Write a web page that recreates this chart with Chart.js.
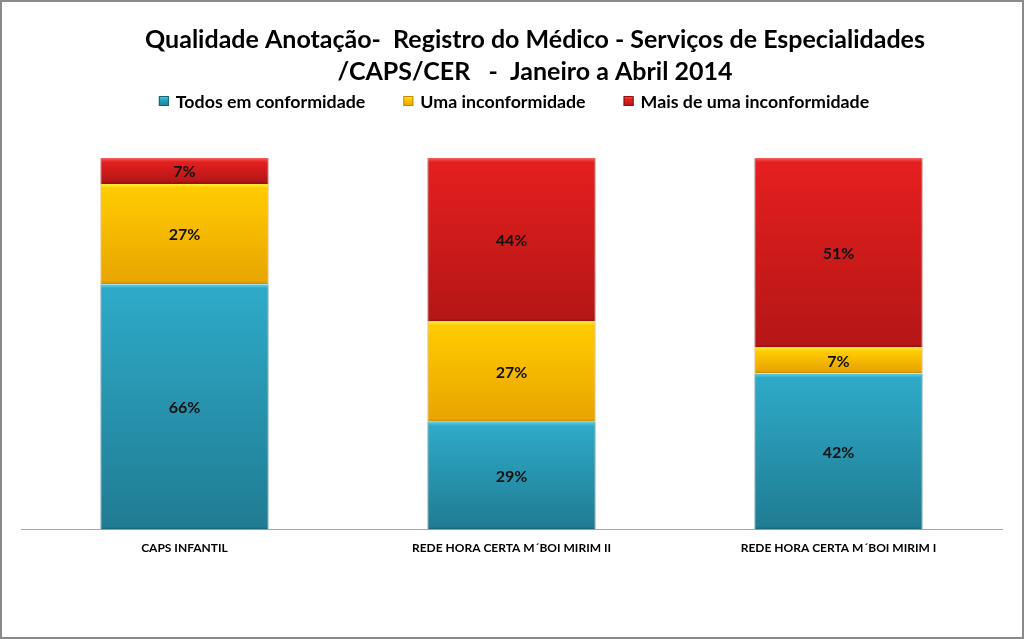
<!DOCTYPE html>
<html><head><meta charset="utf-8">
<script src="https://cdn.jsdelivr.net/npm/chart.js@4"></script>
<style>html,body{margin:0;padding:0;background:#fff}canvas{display:block}</style>
</head><body><canvas id="c" width="1024" height="639" style="width:1024px;height:639px"></canvas>
<script>
const categories = ['CAPS INFANTIL', 'REDE HORA CERTA M´BOI MIRIM II', 'REDE HORA CERTA M´BOI MIRIM I'];
const seriesNames = ['Todos em conformidade', 'Uma inconformidade', 'Mais de uma inconformidade'];
const todosEmConformidade = [66, 29, 42];
const umaInconformidade = [27, 27, 7];
const maisDeUmaInconformidade = [7, 44, 51];
const titleLines = ['Qualidade Anotação-  Registro do Médico - Serviços de Especialidades', '/CAPS/CER   -  Janeiro a Abril 2014'];

const FONT = 'Lato';
const palettes = [
  {hi:'#62d2ea', top:'#2eaac8', bottom:'#207c93', edge:'#176174', solid:'#2ea4c2'},
  {hi:'#ffee3a', top:'#ffcb00', bottom:'#e9a500', edge:'#c58a00', solid:'#ffc000'},
  {hi:'#f26262', top:'#e51f1f', bottom:'#b51616', edge:'#8c1010', solid:'#e02020'}
];

function grad(pal){
  return function(ctx){
    const chart = ctx.chart;
    if (!chart.chartArea || ctx.type !== 'data') return pal.solid;
    const ys = chart.scales.y;
    const di = ctx.datasetIndex, i = ctx.dataIndex;
    let start = 0;
    for (let d = 0; d < di; d++) start += chart.data.datasets[d].data[i];
    const end = start + chart.data.datasets[di].data[i];
    const y0 = ys.getPixelForValue(end), y1 = ys.getPixelForValue(start);
    const h = Math.max(1, y1 - y0);
    const g = chart.ctx.createLinearGradient(0, y0, 0, y1);
    g.addColorStop(0, pal.hi);
    g.addColorStop(Math.min(0.45, 4 / h), pal.top);
    g.addColorStop(Math.max(0.55, 1 - 3 / h), pal.bottom);
    g.addColorStop(1, pal.edge);
    return g;
  };
}

const seriesValues = [todosEmConformidade, umaInconformidade, maisDeUmaInconformidade];
const datasets = seriesValues.map((vals, k) => ({
  label: seriesNames[k],
  data: vals,
  backgroundColor: grad(palettes[k]),
  borderColor: palettes[k].edge,
  borderWidth: {left: 1, right: 1, top: 0, bottom: 0},
  borderSkipped: false,
  categoryPercentage: 1.0,
  barPercentage: 0.514
}));

const framePlugin = {
  id: 'frame',
  beforeDraw(chart){
    const c = chart.ctx;
    c.save();
    c.fillStyle = '#ffffff';
    c.fillRect(0, 0, chart.width, chart.height);
    c.restore();
  },
  afterDraw(chart){
    const c = chart.ctx;
    c.save();
    // title
    c.fillStyle = '#000000';
    c.textAlign = 'center';
    c.textBaseline = 'middle';
    c.font = 'bold 25px ' + FONT;
    c.fillText(titleLines[0], 535, 40);
    c.fillText(titleLines[1], 535, 72);
    // legend
    c.font = 'bold 17.8px ' + FONT;
    const gap = 38, box = 10, sp = 7;
    const widths = seriesNames.map(s => c.measureText(s).width);
    const total = widths.reduce((a, w) => a + box + sp + w, 0) + gap * (seriesNames.length - 1);
    let x = 514 - total / 2;
    const cy = 101;
    c.textAlign = 'left';
    seriesNames.forEach((s, k) => {
      const p = palettes[k];
      const g = c.createLinearGradient(0, cy - 5, 0, cy + 5);
      g.addColorStop(0, p.hi); g.addColorStop(0.3, p.top); g.addColorStop(1, p.bottom);
      c.fillStyle = g;
      c.fillRect(x, cy - 5, box, box);
      c.strokeStyle = p.edge; c.lineWidth = 1;
      c.strokeRect(x + 0.5, cy - 4.5, box - 1, box - 1);
      c.fillStyle = '#000000';
      c.fillText(s, x + box + sp, cy + 1);
      x += box + sp + widths[k] + gap;
    });
    // border
    c.strokeStyle = '#8a8a8a';
    c.lineWidth = 2;
    c.strokeRect(1, 1, chart.width - 2, chart.height - 2);
    c.restore();
  }
};

const labelPlugin = {
  id: 'segLabels',
  afterDatasetsDraw(chart){
    const c = chart.ctx;
    c.save();
    c.font = 'bold 16px ' + FONT;
    c.fillStyle = '#111111';
    c.textAlign = 'center';
    c.textBaseline = 'middle';
    chart.data.datasets.forEach((ds, di) => {
      const meta = chart.getDatasetMeta(di);
      meta.data.forEach((el, i) => {
        const cyy = (el.y + el.base) / 2;
        c.fillText(ds.data[i] + '%', el.x, cyy + 1);
      });
    });
    c.restore();
  }
};

new Chart(document.getElementById('c'), {
  type: 'bar',
  data: {labels: categories, datasets},
  options: {
    responsive: false,
    animation: false,
    devicePixelRatio: 1,
    layout: {padding: {top: 158, left: 21, right: 22, bottom: 81}},
    plugins: {legend: {display: false}, title: {display: false}, tooltip: {enabled: false}},
    scales: {
      x: {
        stacked: true,
        grid: {display: false},
        border: {display: true, color: '#a6a6a6', width: 1},
        ticks: {color: '#000000', font: {family: FONT, size: 12, weight: 'bold'}, padding: 3, maxRotation: 0}
      },
      y: {
        stacked: true,
        display: false,
        min: 0,
        max: 100
      }
    }
  },
  plugins: [framePlugin, labelPlugin]
});
</script>
</body></html>
